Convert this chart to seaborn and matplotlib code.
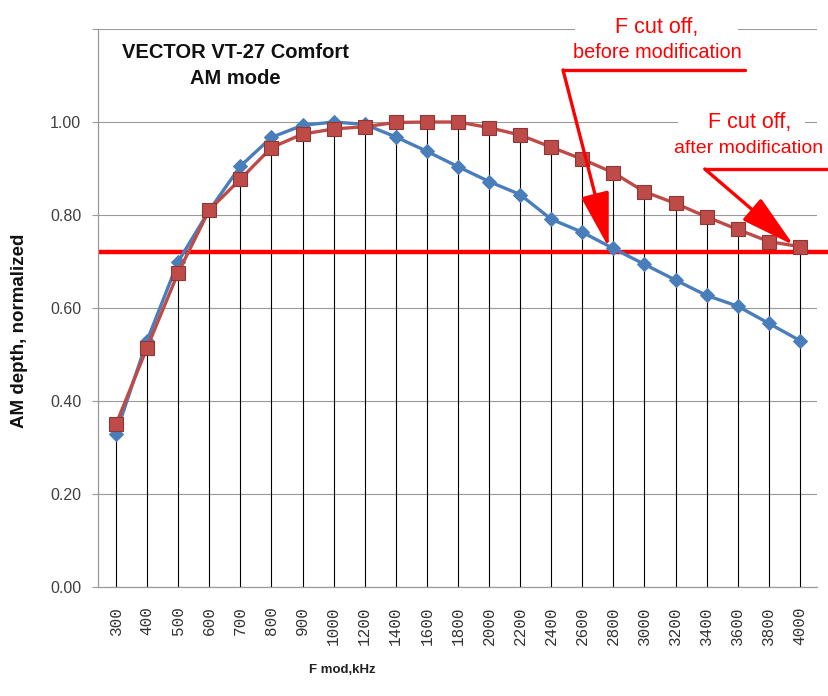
import numpy as np
import pandas as pd
import seaborn as sns
import matplotlib.pyplot as plt
from matplotlib.patches import Rectangle

# F mod, kHz (categorical axis)
freq = [300, 400, 500, 600, 700, 800, 900, 1000, 1200, 1400, 1600, 1800,
        2000, 2200, 2400, 2600, 2800, 3000, 3200, 3400, 3600, 3800, 4000]

# AM depth, normalized
before_mod = [0.33, 0.53, 0.70, 0.81, 0.905, 0.967, 0.993, 1.00, 0.995, 0.968, 0.937, 0.904,
              0.872, 0.844, 0.791, 0.763, 0.728, 0.694, 0.660, 0.627, 0.604, 0.567, 0.530]
after_mod = [0.35, 0.515, 0.676, 0.811, 0.877, 0.945, 0.974, 0.985, 0.99, 0.999, 1.00, 1.00,
             0.988, 0.972, 0.946, 0.92, 0.891, 0.850, 0.825, 0.796, 0.769, 0.743, 0.732]
cutoff_level = 0.72

y_ticks = [0.0, 0.2, 0.4, 0.6, 0.8, 1.0, 1.2]
y_labels = ["0.00", "0.20", "0.40", "0.60", "0.80", "1.00", ""]

sns.set_theme(style="white")
plt.rcParams["font.family"] = ["Liberation Sans", "DejaVu Sans"]

pos = np.arange(len(freq))
df = pd.DataFrame({"pos": pos, "before": before_mod, "after": after_mod})

fig = plt.figure(figsize=(8.29, 6.96), dpi=100)
ax = fig.add_axes([0.1182, 0.1566, 0.8673, 0.8017])

# grid
for yt in y_ticks:
    ax.axhline(yt, color="#9a9a9a", lw=0.8, zorder=0)

# drop lines
ax.vlines(pos, 0, np.maximum(df["before"], df["after"]), color="black", lw=0.8, zorder=1)

# cut-off level
ax.plot([-0.58, 23.2], [cutoff_level, cutoff_level], color="#ff0000", lw=3.2,
        zorder=2, clip_on=False, solid_capstyle="butt")

sns.lineplot(data=df, x="pos", y="before", ax=ax, color="#4a7ebb", lw=2.4,
             marker="D", markersize=7, markeredgecolor="#4a7ebb", zorder=3)
sns.lineplot(data=df, x="pos", y="after", ax=ax, color="#be4b48", lw=2.4,
             marker="s", markersize=9.5, markeredgecolor="#8c3836", markeredgewidth=0.8,
             zorder=4)

ax.set_xlim(-0.58, 22.55)
ax.set_ylim(0, 1.2)
ax.set_xticks(pos)
ax.set_xticklabels([str(f) for f in freq], rotation=90, family="Liberation Mono",
                   fontsize=11.5, color="#333333")
ax.set_yticks(y_ticks)
ax.set_yticklabels(y_labels, fontsize=11.5, color="#404040")
ax.tick_params(axis="x", length=0, pad=14)
ax.tick_params(axis="y", length=4, width=0.8, color="#9a9a9a", pad=8, left=True)

for side in ["top", "right"]:
    ax.spines[side].set_visible(False)
for side in ["left", "bottom"]:
    ax.spines[side].set_color("#9a9a9a")
    ax.spines[side].set_linewidth(0.9)

ax.set_xlabel("F mod,kHz", fontsize=9.5, fontweight="bold", color="#222222")
ax.xaxis.set_label_coords(0.34, -0.138)
ax.set_ylabel("AM depth, normalized", fontsize=13.5, fontweight="bold", color="#111111")
ax.yaxis.set_label_coords(-0.098, 0.46)

ax.text(0.1905, 0.9588, "VECTOR VT-27 Comfort", transform=ax.transAxes,
        ha="center", va="center", fontsize=14.5, fontweight="bold", color="#111111", zorder=6)
ax.text(0.1905, 0.9122, "AM mode", transform=ax.transAxes,
        ha="center", va="center", fontsize=14.5, fontweight="bold", color="#111111", zorder=6)

# annotations: white boxes behind the texts
def white_box(x0, y0, x1, y1):
    # pixel box in the 829x696 figure -> figure fraction
    ax.add_patch(Rectangle((x0 / 829, 1 - y1 / 696), (x1 - x0) / 829, (y1 - y0) / 696,
                           transform=fig.transFigure, facecolor="white",
                           edgecolor="none", zorder=5, clip_on=False))

white_box(575, 14, 738, 64)
white_box(678, 108, 805, 160)

red = "#ff0000"
arrow = dict(arrowstyle="-|>,head_length=0.85,head_width=0.22", color=red, lw=2.4,
             mutation_scale=40, shrinkA=0, shrinkB=0)

ax.text(17.4, 1.203, "F cut off,", ha="center", va="center", fontsize=15.5, color=red,
        zorder=6, clip_on=False)
ax.text(17.4, 1.149, "before modification", ha="center", va="center", fontsize=14.3,
        color=red, zorder=6, clip_on=False)
ax.plot([14.38, 20.23], [1.112, 1.112], color=red, lw=2.4, zorder=6, clip_on=False)
ax.annotate("", xy=(15.85, 0.73), xytext=(14.38, 1.112), arrowprops=arrow,
            zorder=6, annotation_clip=False)

ax.text(20.39, 0.998, "F cut off,", ha="center", va="center", fontsize=15.5, color=red,
        zorder=6, clip_on=False)
ax.text(20.35, 0.944, "after modification", ha="center", va="center", fontsize=14,
        color=red, zorder=6, clip_on=False)
ax.plot([18.94, 23.2], [0.899, 0.899], color=red, lw=2.4, zorder=6, clip_on=False)
ax.annotate("", xy=(21.8, 0.735), xytext=(18.94, 0.899), arrowprops=arrow,
            zorder=6, annotation_clip=False)

fig.savefig("out.png", dpi=100)
